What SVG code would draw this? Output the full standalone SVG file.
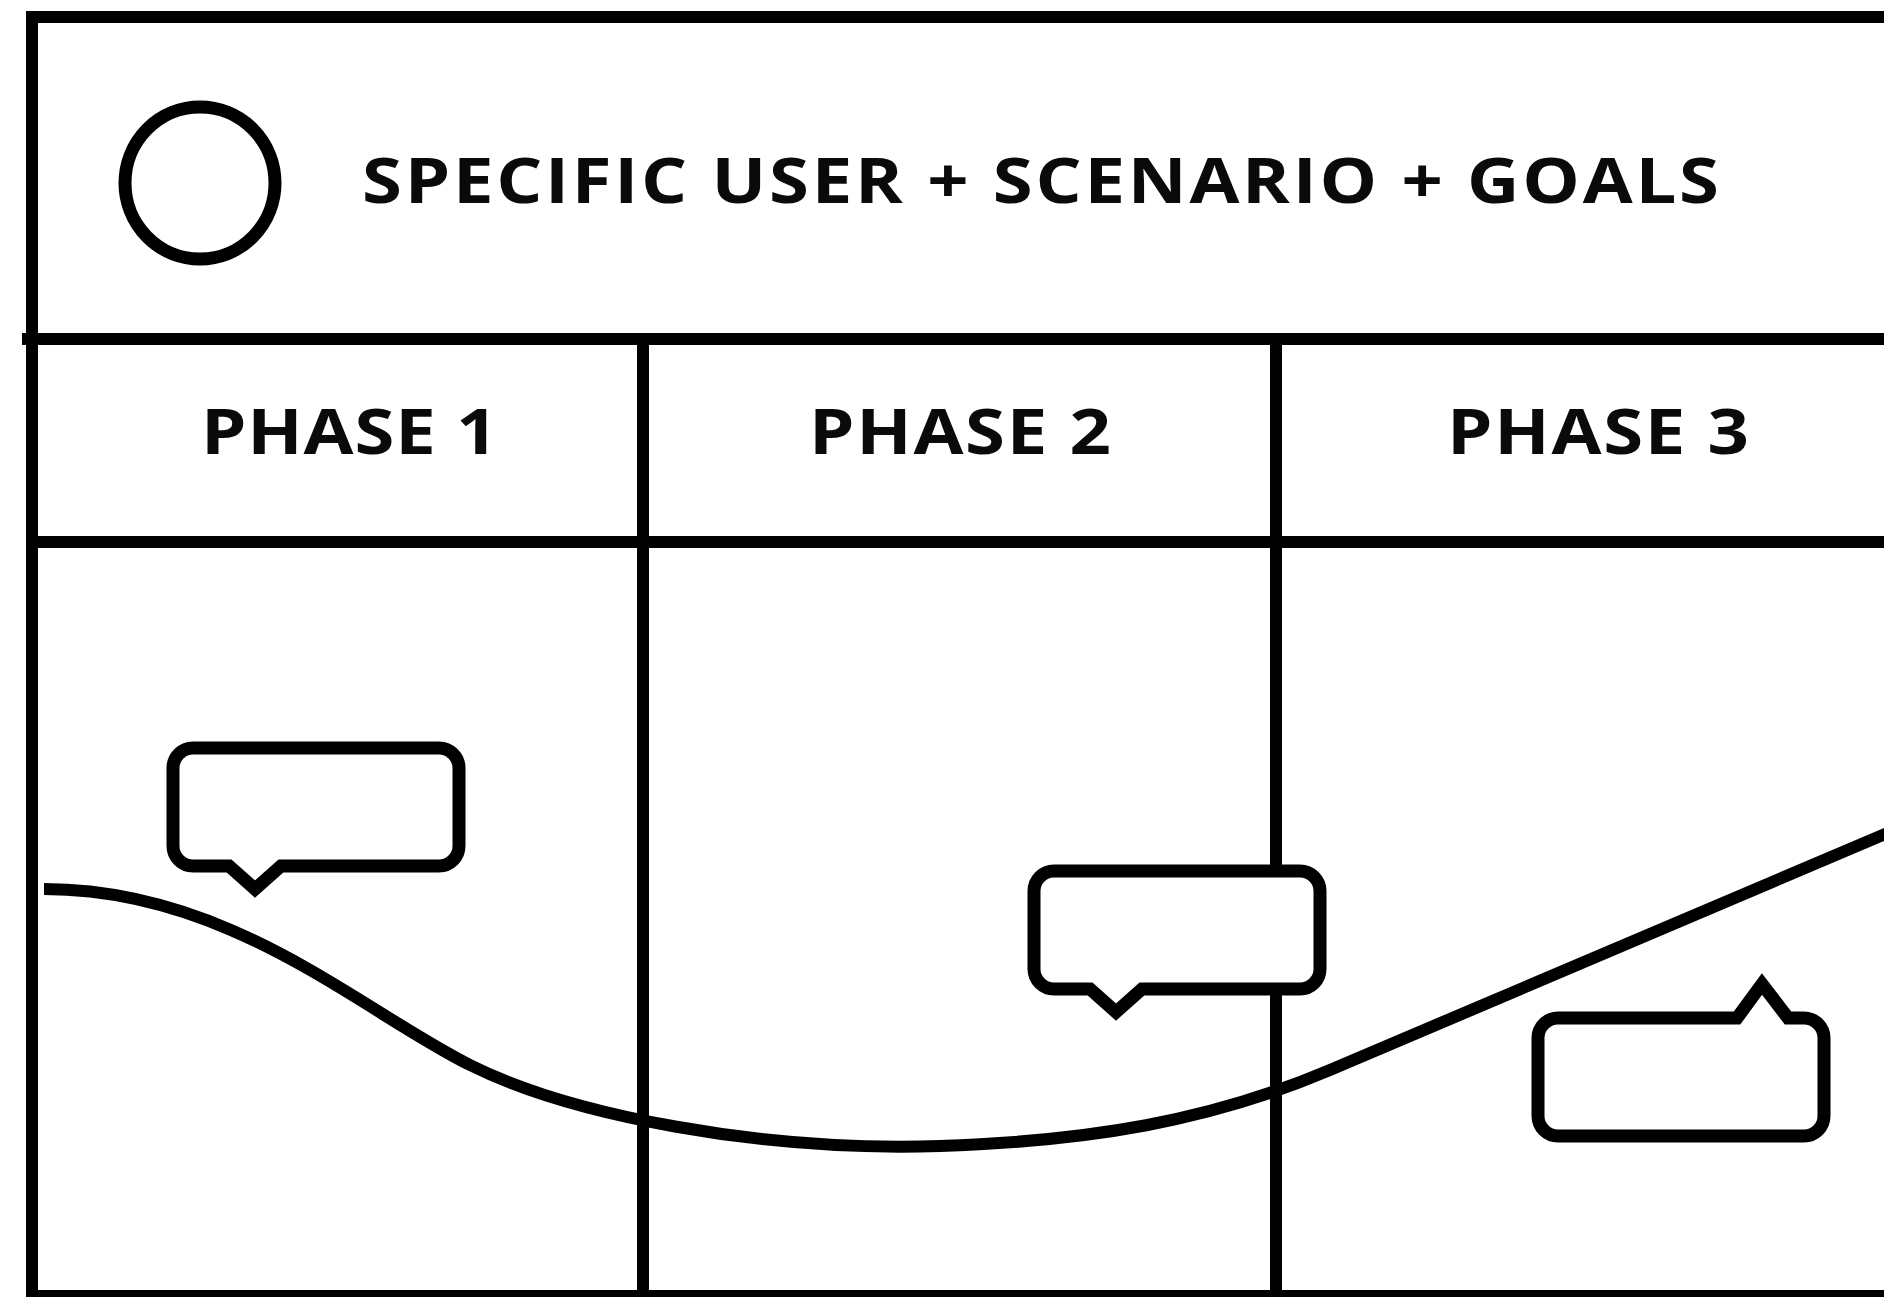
<svg xmlns="http://www.w3.org/2000/svg" width="1884" height="1297" viewBox="0 0 1884 1297">
<style>
.ln{stroke:#000;stroke-width:12;fill:none;stroke-linecap:square}
.bub{fill:#fff;stroke:#000;stroke-width:13;stroke-linejoin:miter}
.t{font-family:"Open Sans","Liberation Sans",sans-serif;font-weight:700;font-size:63px;fill:#0a0a0a}
</style>
<defs>
<path id="bubDown" d="M20 0 H266 A20 20 0 0 1 286 20 V98 A20 20 0 0 1 266 118 H108 L82 141 L56 118 H20 A20 20 0 0 1 0 98 V20 A20 20 0 0 1 20 0 Z"/>
<path id="bubUp" d="M20 0 H199 L224 -34 L250 0 H266 A20 20 0 0 1 286 20 V98 A20 20 0 0 1 266 118 H20 A20 20 0 0 1 0 98 V20 A20 20 0 0 1 20 0 Z"/>
</defs>
<rect width="1884" height="1297" fill="#fff"/>
<g id="grid">
<line class="ln" x1="32" y1="17" x2="1890" y2="17"/>
<line class="ln" x1="32" y1="17" x2="32" y2="1300"/>
<line class="ln" x1="28" y1="339" x2="1890" y2="339"/>
<line class="ln" x1="32" y1="542" x2="1890" y2="542"/>
<line class="ln" x1="32" y1="1296" x2="1890" y2="1296"/>
<line class="ln" x1="643" y1="339" x2="643" y2="1300"/>
<line class="ln" x1="1276" y1="339" x2="1276" y2="1300"/>
</g>
<g id="header">
<ellipse cx="200" cy="183" rx="75" ry="76" fill="none" stroke="#000" stroke-width="13"/>
<text class="t" transform="scale(1.15 1)" x="314.8" y="203" textLength="1180" lengthAdjust="spacing">SPECIFIC USER + SCENARIO + GOALS</text>
</g>
<g id="phase1"><text class="t" transform="scale(1.15 1)" x="174.8" y="454" textLength="258" lengthAdjust="spacing">PHASE 1</text></g>
<g id="phase2"><text class="t" transform="scale(1.15 1)" x="703.5" y="454" textLength="262.6" lengthAdjust="spacing">PHASE 2</text></g>
<g id="phase3"><text class="t" transform="scale(1.15 1)" x="1258.3" y="454" textLength="262.6" lengthAdjust="spacing">PHASE 3</text></g>
<g id="connectors">
<path d="M44 889 C230 889 360 1010 470 1065 C570 1115 760 1152 940 1146 C1090 1141 1210 1121 1330 1070 L1890 832" fill="none" stroke="#000" stroke-width="12"/>
</g>
<g id="bubble1"><use href="#bubDown" class="bub" x="173" y="748"/></g>
<g id="bubble2"><use href="#bubDown" class="bub" x="1034" y="871"/></g>
<g id="bubble3"><use href="#bubUp" class="bub" x="1538" y="1018"/></g>
</svg>
